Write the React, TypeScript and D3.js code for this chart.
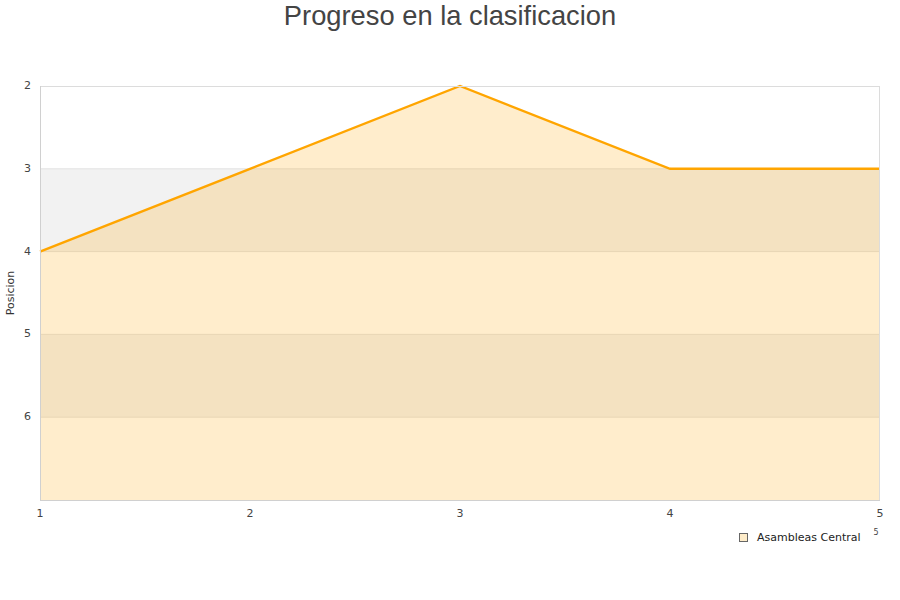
import React from 'react';
import * as d3 from 'd3';

const jornadas = [1, 2, 3, 4, 5];
const posiciones = [4, 3, 2, 3, 3];
const yTicks = [2, 3, 4, 5, 6];
const bands = [[3, 4], [5, 6]];
const seriesName = 'Asambleas Central';

const W = 900;
const H = 600;
const left = 40;
const right = 880;
const top = 86;
const bottom = 500;

export default function App() {
  const x = d3.scaleLinear().domain([1, 5]).range([left, right]);
  const y = d3.scaleLinear().domain([2, 7]).range([top, bottom]);
  const pts = jornadas.map((j, i) => [j, posiciones[i]] as [number, number]);

  const area = d3.area<[number, number]>()
    .x(d => x(d[0]))
    .y0(bottom)
    .y1(d => y(d[1]));
  const line = d3.line<[number, number]>()
    .x(d => x(d[0]))
    .y(d => y(d[1]));

  return (
    <svg width={W} height={H} style={{ display: 'block', position: 'absolute', left: 0, top: 0 }}>
      <rect width={W} height={H} fill="#fff" />
      <text x={450} y={25} textAnchor="middle"
        fontFamily="Liberation Sans, Arial, sans-serif" fontSize={27.3} fill="#444">
        Progreso en la clasificacion
      </text>

      {/* alternate bands */}
      {bands.map(([a, b]) => (
        <rect key={a} x={left} y={y(a)} width={right - left} height={y(b) - y(a)} fill="#f2f2f2" />
      ))}
      {/* grid */}
      {yTicks.slice(1).map(t => (
        <line key={t} x1={left} x2={right} y1={y(t)} y2={y(t)} stroke="#e2e2e2" strokeWidth={1} />
      ))}

      <path d={area(pts) || ''} fill="rgba(255,165,0,0.2)" />
      <path d={line(pts) || ''} fill="none" stroke="#ffa500" strokeWidth={2.4} />

      {/* frame */}
      <rect x={left + 0.5} y={top + 0.5} width={right - left - 1} height={bottom - top} fill="none" stroke="#dcdcdc" />
      <line x1={left + 0.5} x2={left + 0.5} y1={top} y2={bottom} stroke="#d0d0d0" />
      <line x1={left} x2={right} y1={bottom + 0.5} y2={bottom + 0.5} stroke="#d0d0d0" />

      <g fontFamily="DejaVu Sans, sans-serif" fontSize={11} fill="#444">
        {yTicks.map(t => (
          <text key={t} x={31} y={y(t)} textAnchor="end" dominantBaseline="middle">{t}</text>
        ))}
        {jornadas.map(j => (
          <text key={j} x={x(j)} y={514} textAnchor="middle" dominantBaseline="middle">{j}</text>
        ))}
        <text x={876} y={532} fontSize={8} textAnchor="middle" dominantBaseline="middle">5</text>
      </g>

      <text transform={`translate(11,${(top + bottom) / 2}) rotate(-90)`} textAnchor="middle"
        dominantBaseline="middle" fontFamily="DejaVu Sans, sans-serif" fontSize={11} fill="#333">
        Posicion
      </text>

      <rect x={739.5} y={533.5} width={8} height={8} fill="#feecc9" stroke="#666" strokeWidth={1} />
      <text x={757} y={538} dominantBaseline="middle" fontFamily="DejaVu Sans, sans-serif" fontSize={11} fill="#222">
        {seriesName}
      </text>
    </svg>
  );
}
